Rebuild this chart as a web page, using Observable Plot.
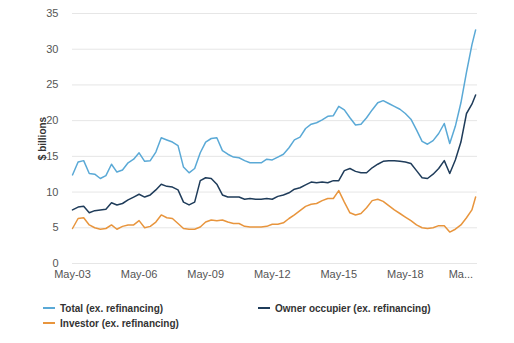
<!DOCTYPE html>
<html>
<head>
<meta charset="utf-8">
<script src="https://cdn.jsdelivr.net/npm/d3@7"></script>
<script src="https://cdn.jsdelivr.net/npm/@observablehq/plot@0.6"></script>
<style>
  html, body { margin: 0; padding: 0; background: #fff; }
  body { width: 514px; height: 343px; overflow: hidden; font-family: "Liberation Sans", Arial, sans-serif; }
  #chart svg { display: block; }
  #chart [aria-label="y-axis label"] text { font-weight: bold; font-size: 10px; fill: #333; }
  .legend { display: grid; grid-template-columns: 215px 215px; margin-left: 43px; margin-top: 11px; row-gap: 1px; }
  .item { display: flex; align-items: center; font-size: 10px; font-weight: bold; color: #333; height: 14px; }
  .sw { width: 12px; height: 2px; margin-right: 5px; }
</style>
</head>
<body>
<div id="chart"></div>
<div class="legend" id="legend"></div>
<script>
const dates = [
  "2003-05","2003-08","2003-11",
  "2004-02","2004-05","2004-08","2004-11",
  "2005-02","2005-05","2005-08","2005-11",
  "2006-02","2006-05","2006-08","2006-11",
  "2007-02","2007-05","2007-08","2007-11",
  "2008-02","2008-05","2008-08","2008-11",
  "2009-02","2009-05","2009-08","2009-11",
  "2010-02","2010-05","2010-08","2010-11",
  "2011-02","2011-05","2011-08","2011-11",
  "2012-02","2012-05","2012-08","2012-11",
  "2013-02","2013-05","2013-08","2013-11",
  "2014-02","2014-05","2014-08","2014-11",
  "2015-02","2015-05","2015-08","2015-11",
  "2016-02","2016-05","2016-08","2016-11",
  "2017-02","2017-05","2017-08","2017-11",
  "2018-02","2018-05","2018-08","2018-11",
  "2019-02","2019-05","2019-08","2019-11",
  "2020-02","2020-05","2020-08","2020-11",
  "2021-02","2021-05","2021-07"
];

const seriesNames = ["Total (ex. refinancing)", "Owner occupier (ex. refinancing)", "Investor (ex. refinancing)"];
const seriesColors = ["#5aa9d6", "#1f3c5a", "#e8953d"];

const total = [12.4,14.2,14.4,12.6,12.5,11.9,12.3,13.9,12.8,13.1,14.1,14.6,15.5,14.3,14.4,15.6,17.6,17.3,17.0,16.5,13.5,12.7,13.3,15.5,17.0,17.5,17.6,15.8,15.3,14.9,14.8,14.4,14.1,
  14.1,14.1,14.6,14.5,14.9,15.3,16.2,17.3,17.7,18.9,19.5,19.7,20.1,20.6,20.7,22.0,21.5,20.4,19.4,19.5,20.4,21.5,22.5,22.8,22.4,22.0,21.6,21.0,20.2,18.7,17.1,16.7,17.2,18.2,19.6,16.8,19.2,22.5,26.8,30.6,32.7];
const owner = [7.5,7.9,8.0,7.1,7.4,7.5,7.6,8.5,8.2,8.4,8.9,9.3,9.7,9.3,9.6,10.3,11.1,10.8,10.7,10.3,8.6,8.2,8.6,11.6,12.0,11.9,11.1,9.6,9.3,9.3,9.3,9.0,9.1,
  9.0,9.0,9.1,9.0,9.4,9.6,9.9,10.4,10.6,11.0,11.4,11.3,11.4,11.3,11.6,11.6,13.0,13.3,12.9,12.7,12.7,13.4,13.9,14.3,14.4,14.4,14.3,14.2,14.0,13.0,12.0,11.9,12.5,13.3,14.4,12.6,14.5,17.0,21.0,22.3,23.6];
const investor = [4.9,6.3,6.4,5.4,5.0,4.8,4.9,5.4,4.8,5.2,5.4,5.4,6.0,5.0,5.2,5.8,6.8,6.4,6.3,5.6,4.9,4.8,4.8,5.1,5.8,6.1,6.0,6.1,5.8,5.6,5.6,5.2,5.1,
  5.1,5.1,5.2,5.5,5.5,5.7,6.3,6.8,7.4,8.0,8.3,8.4,8.8,9.1,9.1,10.2,8.6,7.1,6.8,7.0,7.8,8.8,9.0,8.7,8.1,7.5,7.0,6.5,6.0,5.4,5.0,4.9,5.0,5.3,5.3,4.4,4.8,5.4,6.4,7.5,9.3];

const yTicks = [0,5,10,15,20,25,30,35];
const xTickDates = ["2003-05","2006-05","2009-05","2012-05","2015-05","2018-05"];
const xTickLabels = ["May-03","May-06","May-09","May-12","May-15","May-18"];
const lastTickDate = "2021-05";
const lastTickLabel = "Ma...";

const parse = d3.utcParse("%Y-%m");
const seriesValues = [total, owner, investor];
const rows = [];
seriesNames.forEach((name, s) => {
  dates.forEach((d, i) => rows.push({date: parse(d), value: seriesValues[s][i], series: name}));
});
const tickDates = xTickDates.map(parse);
const labelByTime = new Map(tickDates.map((d, i) => [+d, xTickLabels[i]]));

const plot = Plot.plot({
  width: 514,
  height: 290,
  marginTop: 13,
  marginBottom: 27,
  marginLeft: 72,
  marginRight: 37,
  style: {fontFamily: "'Liberation Sans', Arial, sans-serif", fontSize: "11px", color: "#555"},
  x: {type: "utc", domain: [parse("2003-05"), parse("2021-08")]},
  y: {domain: [0, 35]},
  color: {domain: seriesNames, range: seriesColors},
  marks: [
    Plot.gridY(yTicks, {stroke: "#e6e6e6", strokeOpacity: 1}),
    Plot.axisY(yTicks, {tickSize: 0, tickPadding: 14, label: "$ billions", labelAnchor: "center", labelArrow: "none", labelOffset: 34, fill: "#555"}),
    Plot.axisX(tickDates, {tickSize: 0, tickPadding: 7, tickFormat: d => labelByTime.get(+d), label: null, fill: "#555"}),
    Plot.text([lastTickLabel], {x: () => parse(lastTickDate), y: () => 0, dy: 7, dx: -11, fill: "#555", lineAnchor: "top", clip: false}),
    Plot.line(rows, {x: "date", y: "value", z: "series", stroke: "series", strokeWidth: 1.5, curve: "linear"})
  ]
});
document.getElementById("chart").appendChild(plot);

const legend = document.getElementById("legend");
[0, 1, 2].forEach(i => {
  const div = document.createElement("div");
  div.className = "item";
  div.innerHTML = `<span class="sw" style="background:${seriesColors[i]}"></span>${seriesNames[i]}`;
  legend.appendChild(div);
});
</script>
</body>
</html>
